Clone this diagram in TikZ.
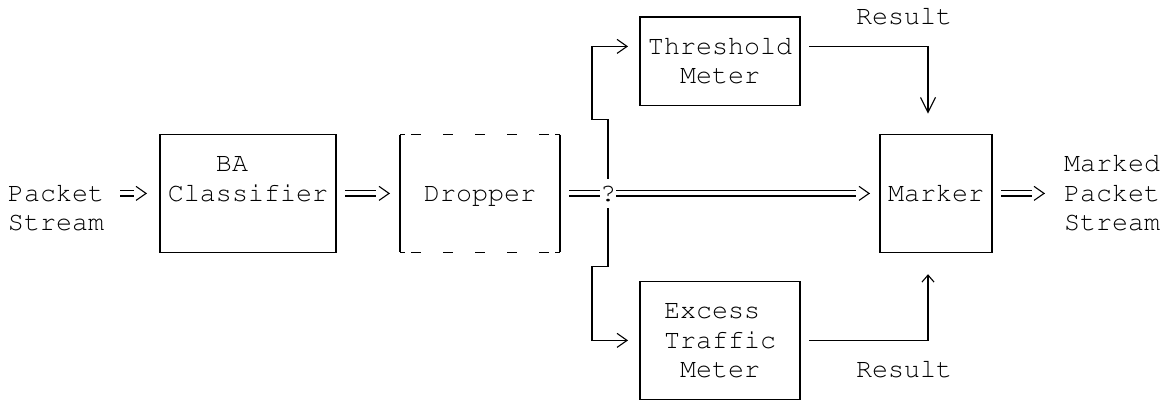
\documentclass[tikz,border=0pt]{standalone}
\usepackage[T1]{fontenc}
\usepackage{courier}
\usetikzlibrary{arrows.meta}
\newcommand\rs{\rule[-6.8pt]{0pt}{29.4pt}}
\begin{document}
\begin{tikzpicture}[x=1pt,y=-1pt,
  every node/.style={font=\ttfamily\fontsize{26.67pt}{29.4pt}\selectfont, inner sep=0pt, outer sep=0pt},
  box/.style={draw, line width=1.1pt, align=center},
  conn/.style={line width=1.1pt},
  dbl/.style={draw, line width=1.1pt, double=white, double distance=4pt},
  tipR/.style={line width=1.1pt, -{Straight Barb[length=10pt,width=14pt]}},
  tipV/.style={-{Straight Barb[length=15pt,width=15pt]}},
  tipC/.style={-{Straight Barb[length=7pt,width=12pt]}},
  droptop/.style={line width=1.1pt, dash pattern=on 5pt off 6pt on 10pt off 22pt on 10pt off 22pt on 10pt off 22pt on 10pt off 22pt on 10pt off 6pt on 5pt}
]
\fill[white] (0,0) rectangle (1164,407);
\useasboundingbox (0,0) rectangle (1164,407);

% boxes
\node[box, minimum width=176pt, minimum height=117.6pt] (cls) at (248,193.4) {\rs BA\phantom{xx}\\\rs Classifier\\\rs};
\node[minimum width=160pt, minimum height=117.6pt] (drop) at (480,193.4) {\rs Dropper};
\draw[conn] (drop.north west) -- (drop.south west);
\draw[conn] (drop.north east) -- (drop.south east);
\draw[droptop] (drop.north west) -- (drop.north east);
\draw[droptop] (drop.south west) -- (drop.south east);
\node[box, minimum width=160pt, minimum height=88.2pt] (thr) at (720,61.1) {\rs Threshold\\\rs Meter};
\node[box, minimum width=112pt, minimum height=117.6pt] (mark) at (936,193.4) {\rs Marker};
\node[box, minimum width=160pt, minimum height=117.6pt] (exc) at (720,340.4) {\rs Excess\phantom{x}\\\rs Traffic\\\rs Meter};
\node (q) at (608,193.4) {\rs ?};

% labels
\node[anchor=west, align=left] (inlbl) at (8,208.1) {\rs Packet\\\rs Stream};
\node[anchor=west, align=left] (outlbl) at (1064,193.4) {\rs Marked\\\rs Packet\\\rs Stream};
\node (res1) at (904,17) {\rs Result};
\node (res2) at (904,369.8) {\rs Result};

% coordinates
\coordinate (inS) at (120,193.4);
\coordinate (outE) at (1045,193.4);
\coordinate (ju1) at (608,119.9);
\coordinate (ju2) at (592,119.9);
\coordinate (t1) at (592,46.4);
\coordinate (jd1) at (608,266.9);
\coordinate (jd2) at (592,266.9);
\coordinate (e1) at (592,340.4);
\coordinate (r1) at (928,46.4);
\coordinate (r2) at (928,340.4);

% double-line flow
\draw[dbl] (inS) -- ([xshift=-26pt]cls.west);
\draw[tipR] ([xshift=-14pt]cls.west) -- ([xshift=-13pt]cls.west);
\draw[dbl] ([xshift=9pt]cls.east) -- ([xshift=-24pt]drop.west);
\draw[tipR] ([xshift=-11pt]drop.west) -- ([xshift=-10pt]drop.west);
\draw[dbl] ([xshift=9pt]drop.east) -- (q.west);
\draw[dbl] (q.east) -- ([xshift=-24pt]mark.west);
\draw[tipR] ([xshift=-11pt]mark.west) -- ([xshift=-10pt]mark.west);
\draw[dbl] ([xshift=9pt]mark.east) -- ([xshift=-13pt]outE);
\draw[tipR] ([xshift=-1pt]outE) -- (outE);

% meter branches
\draw[conn, tipR, shorten >=12pt] (q.north) -- (ju1) -- (ju2) -- (t1) -- (thr.west |- t1);
\draw[conn, tipR, shorten >=12pt] (q.south) -- (jd1) -- (jd2) -- (e1) -- (exc.west);

% results
\draw[conn, tipV, shorten <=9pt, shorten >=21pt] (thr.east |- t1) -- (r1) -- (mark.north -| r1);
\draw[conn, tipC, shorten <=9pt, shorten >=22pt] (exc.east) -- (r2) -- (mark.south -| r1);
\end{tikzpicture}
\end{document}
